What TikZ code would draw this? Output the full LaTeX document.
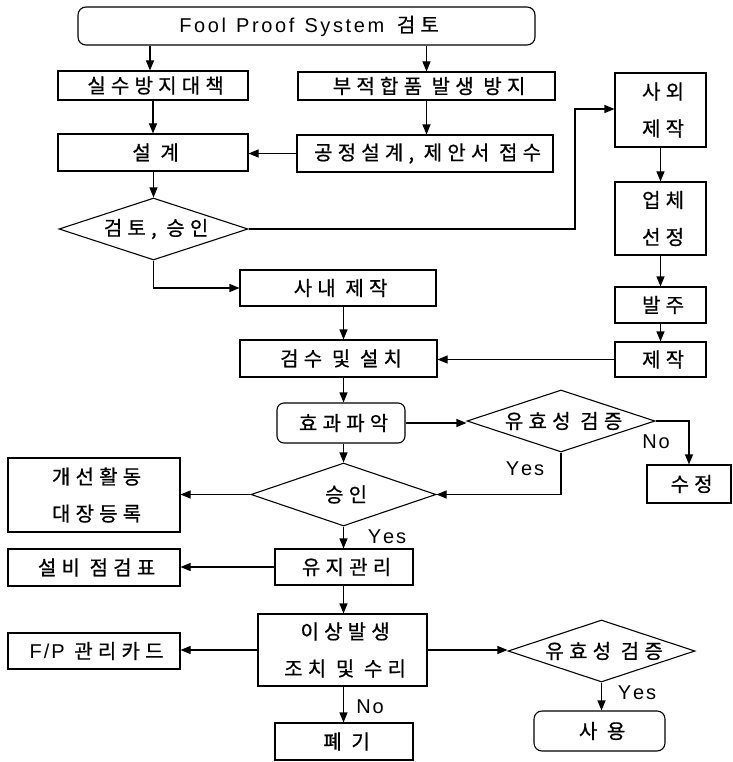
\documentclass[tikz,border=0pt]{standalone}
\usepackage{fontspec}
\setmainfont{Liberation Sans}
\newfontfamily\lat{Liberation Sans}
\newfontfamily\kr[LetterSpace=26,FakeBold=0.7]{Noto Sans CJK KR}
\usetikzlibrary{arrows.meta,shapes.geometric}
\newcommand\ks{\kern5.2pt}
\newcommand\lk{\kern1.9pt}
\newcommand\tk{\kern2.6pt}
\newcommand\lt[1]{{\fontsize{20}{24}\selectfont\lat #1}}
\begin{document}
\begin{tikzpicture}[x=1pt,y=-1pt, line width=1.1pt,
  box/.style={draw, rectangle, inner sep=0pt, align=center, font={\fontsize{20}{37}\selectfont\kr}},
  rbox/.style={box, rounded corners=8pt},
  dia/.style={draw, diamond, inner sep=0pt, font={\fontsize{20}{37}\selectfont\kr}},
  arr/.style={-{Triangle[length=10pt,width=8pt]}},
  lab/.style={inner sep=0pt, font={\fontsize{20}{24}\selectfont\lat}}]
\useasboundingbox (0,0) rectangle (732,762);
% nodes
\node[rbox, minimum width=457pt, minimum height=38pt] (top) at (306.5,26) {\ks\lt{F\tk o\tk o\tk l\tk\hspace{2pt} P\tk r\tk o\tk o\tk f\tk\hspace{2pt} S\tk y\tk s\tk t\tk e\tk m}\hspace{3pt} 검토};
\node[box, minimum width=190pt, minimum height=29pt] (a1) at (153,85.5) {\ks 실수방지대책};
\node[box, minimum width=257pt, minimum height=28pt] (a2) at (426.5,86) {\ks 부적합품 발생 방지};
\node[box, minimum width=190pt, minimum height=37pt] (b1) at (153,152.5) {\ks 설 계};
\node[box, minimum width=256pt, minimum height=37pt] (b2) at (425,153.5) {\ks 공정설계, 제안서 접수};
\node[dia, minimum width=189pt, minimum height=62pt] (d1) at (153.5,229) {\makebox[0pt]{\ks 검토, 승인}};
\node[box, minimum width=91pt, minimum height=74pt] (r1) at (660.5,110) {\ks 사외\\\ks 제작};
\node[box, minimum width=91pt, minimum height=73pt] (r2) at (660.5,218.5) {\ks 업체\\\ks 선정};
\node[box, minimum width=91pt, minimum height=36pt] (r3) at (660.5,305) {\ks 발주};
\node[box, minimum width=91pt, minimum height=35pt] (r4) at (660.5,359.5) {\ks 제작};
\node[box, minimum width=196pt, minimum height=36pt] (c1) at (338,288) {\ks 사내 제작};
\node[box, minimum width=197pt, minimum height=37pt] (c2) at (338.5,358.5) {\ks 검수 및 설치};
\node[rbox, minimum width=128pt, minimum height=40pt, rounded corners=7pt] (c3) at (341,423) {\ks 효과파악};
\node[dia, minimum width=188pt, minimum height=62pt] (d2) at (561,421) {\makebox[0pt]{\ks 유효성 검증}};
\node[box, minimum width=84pt, minimum height=38pt] (e1) at (689,484) {\ks 수정};
\node[dia, minimum width=185pt, minimum height=63pt] (d3) at (343.5,494.5) {\makebox[0pt]{\ks 승인}};
\node[box, minimum width=172pt, minimum height=74pt] (f1) at (94,495) {\ks 개선활동\\\ks 대장등록};
\node[box, minimum width=138pt, minimum height=36pt] (g1) at (344,567) {\ks 유지관리};
\node[box, minimum width=172pt, minimum height=37pt] (f2) at (94,567.5) {\ks 설비 점검표};
\node[box, minimum width=169pt, minimum height=72pt] (g2) at (342.5,650) {\ks 이상발생\\\ks 조치 및 수리};
\node[box, minimum width=172pt, minimum height=36pt] (f3) at (94,651) {\ks\lt{F\lk/\lk P} 관리카드};
\node[dia, minimum width=187pt, minimum height=62pt] (d4) at (601.5,651) {\makebox[0pt]{\ks 유효성 검증}};
\node[rbox, minimum width=131pt, minimum height=40pt] (h1) at (599.5,731) {\ks 사 용};
\node[box, minimum width=138pt, minimum height=37pt] (g3) at (344,741.5) {\ks 폐 기};
% labels
\node[lab] (no1) at (656,442) {N\lk o};
\node[lab] (yes1) at (525,469) {Y\lk e\lk s};
\node[lab] (yes2) at (387,537) {Y\lk e\lk s};
\node[lab] (yes3) at (637,693) {Y\lk e\lk s};
\node[lab] (no2) at (370,707) {N\lk o};
% connectors
\coordinate (k1) at (575,109);
\draw[arr] (top.south -| 150,0) -- (a1.north -| 150,0);
\draw[arr] (top.south -| a2.north) -- (a2.north);
\draw[arr] (a1) -- (b1);
\draw[arr] (a2.south) -- (a2.south |- b2.north);
\draw[arr] (b2.west) -- (b2.west -| b1.east);
\draw[arr] (d1.north |- b1.south) -- (d1.north);
\draw[arr] (d1.east) -| (k1) -- (k1 -| r1.west);
\draw[arr] (d1.south) |- (c1.west);
\draw[arr] (r1) -- (r2);
\draw[arr] (r2) -- (r3);
\draw[arr] (r3) -- (r4);
\draw[arr] (r4.west) -- (r4.west -| c2.east);
\draw[arr] (c1.south -| d3.north) -- (c2.north -| d3.north);
\draw[arr] (c2.south -| d3.north) -- (c3.north -| d3.north);
\draw[arr] (c3.south -| d3.north) -- (d3.north);
\draw[arr] (c3.east) -- (c3.east -| d2.west);
\draw[arr] (d2.east) -| (e1.north);
\draw[arr] (d2.south) |- (d3.east);
\draw[arr] (d3.west) -- (d3.west -| f1.east);
\draw[arr] (d3.south) -- (g1.north -| d3.south);
\draw[arr] (g1.west) -- (g1.west -| f2.east);
\draw[arr] (g1.south -| d3.south) -- (g2.north -| d3.south);
\draw[arr] (g2.west) -- (g2.west -| f3.east);
\draw[arr] (g2.east) -- (g2.east -| d4.west);
\draw[arr] (d4.south) -- (d4.south |- h1.north);
\draw[arr] (g2.south -| d3.south) -- (g3.north -| d3.south);
\end{tikzpicture}
\end{document}
